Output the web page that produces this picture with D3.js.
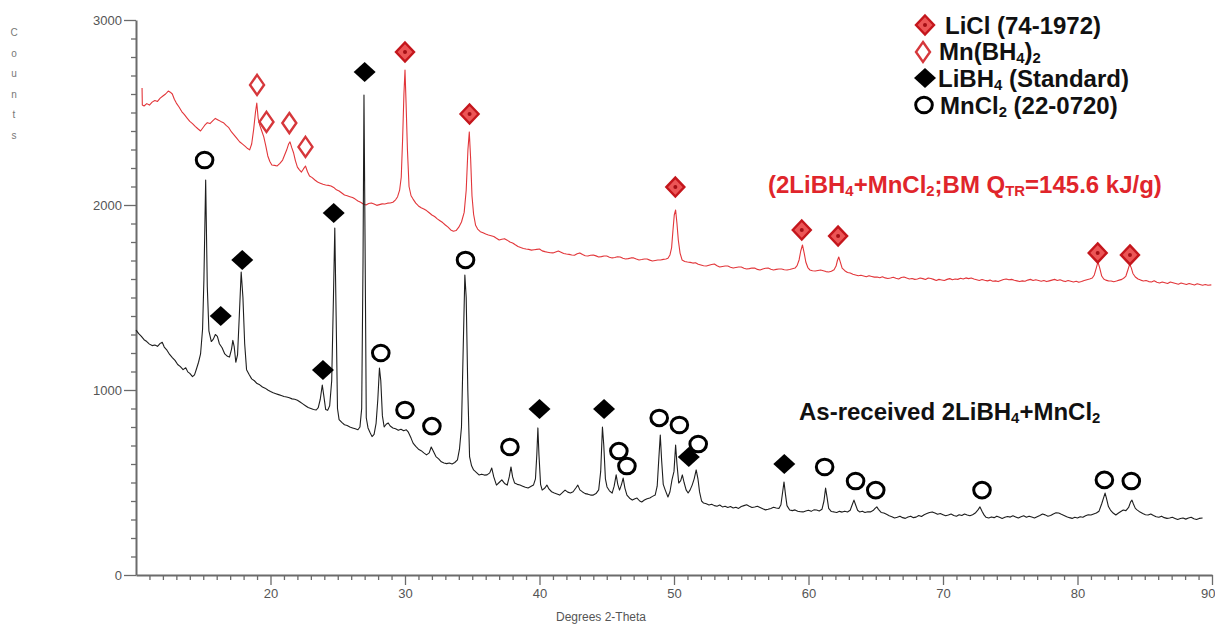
<!DOCTYPE html>
<html>
<head>
<meta charset="utf-8">
<script src="https://cdn.jsdelivr.net/npm/d3@7"></script>
<style>
  html, body { margin: 0; padding: 0; background: #fff; }
  svg { display: block; }
  text { white-space: pre; }
</style>
</head>
<body>
<script>
// ---- XRD patterns: [2-theta (deg), counts] ----
const asReceived = [
[10.0,1324],[10.2,1305],[10.4,1290],[10.6,1272],[10.8,1262],[11.0,1248],[11.2,1240],[11.4,1243],[11.6,1236],[11.8,1252],[11.95,1258],[12.1,1232],[12.3,1215],[12.5,1192],[12.7,1175],[12.9,1160],[13.1,1138],[13.3,1126],[13.5,1110],[13.7,1120],[13.85,1098],[14.0,1090],[14.2,1072],[14.35,1082],[14.5,1115],[14.65,1150],[14.8,1195],[14.95,1330],[15.05,1600],[15.18,2135],[15.3,1560],[15.42,1320],[15.6,1262],[15.75,1275],[15.9,1300],[16.05,1290],[16.2,1250],[16.4,1228],[16.6,1195],[16.8,1182],[16.95,1178],[17.1,1220],[17.2,1268],[17.3,1235],[17.42,1150],[17.55,1190],[17.68,1400],[17.82,1638],[17.95,1500],[18.08,1250],[18.22,1110],[18.4,1085],[18.6,1060],[18.8,1050],[19.0,1035],[19.2,1028],[19.4,1016],[19.6,1010],[19.8,1000],[20.0,992],[20.2,985],[20.4,980],[20.6,975],[20.8,970],[21.0,965],[21.2,962],[21.4,958],[21.6,952],[21.8,950],[22.0,945],[22.2,935],[22.4,925],[22.6,915],[22.8,905],[23.0,900],[23.2,895],[23.4,892],[23.55,905],[23.7,950],[23.85,1027],[23.98,960],[24.1,895],[24.25,890],[24.4,915],[24.55,1050],[24.68,1500],[24.78,1876],[24.88,1400],[24.98,900],[25.1,840],[25.3,825],[25.5,812],[25.7,808],[25.9,800],[26.1,795],[26.3,790],[26.5,785],[26.65,800],[26.78,900],[26.88,1700],[26.95,2595],[27.03,1800],[27.12,850],[27.25,795],[27.4,770],[27.55,748],[27.7,760],[27.85,820],[27.98,950],[28.1,1119],[28.2,1050],[28.32,860],[28.45,800],[28.6,815],[28.75,822],[28.9,805],[29.1,795],[29.3,790],[29.5,782],[29.7,788],[29.9,780],[30.1,785],[30.25,772],[30.45,740],[30.6,713],[30.8,695],[31.0,680],[31.2,672],[31.4,660],[31.6,649],[31.8,660],[31.95,692],[32.1,670],[32.3,640],[32.5,628],[32.7,612],[32.9,605],[33.1,602],[33.3,605],[33.5,600],[33.7,608],[33.9,622],[34.05,680],[34.2,800],[34.32,1200],[34.45,1622],[34.55,1500],[34.67,1000],[34.8,640],[34.95,590],[35.1,568],[35.3,555],[35.5,541],[35.7,545],[35.9,540],[36.1,541],[36.3,552],[36.45,578],[36.6,530],[36.8,486],[37.0,500],[37.2,514],[37.4,495],[37.6,486],[37.75,530],[37.88,584],[38.0,530],[38.15,497],[38.35,490],[38.55,486],[38.75,480],[38.95,474],[39.15,470],[39.35,478],[39.55,486],[39.7,520],[39.8,650],[39.88,795],[39.96,650],[40.08,490],[40.2,459],[40.4,470],[40.55,486],[40.7,465],[40.9,450],[41.1,443],[41.3,438],[41.5,432],[41.7,445],[41.9,459],[42.1,448],[42.3,443],[42.5,450],[42.7,470],[42.85,486],[43.0,460],[43.2,449],[43.4,440],[43.6,437],[43.8,432],[44.0,432],[44.2,440],[44.4,460],[44.55,560],[44.68,800],[44.78,700],[44.9,520],[45.02,476],[45.2,455],[45.4,443],[45.55,480],[45.7,541],[45.82,490],[45.95,459],[46.1,490],[46.22,524],[46.35,470],[46.5,432],[46.7,415],[46.9,405],[47.1,412],[47.25,416],[47.45,400],[47.6,395],[47.8,405],[48.0,412],[48.2,416],[48.4,425],[48.6,432],[48.75,480],[48.88,640],[48.98,757],[49.08,620],[49.2,490],[49.35,459],[49.55,422],[49.7,450],[49.85,514],[50.0,560],[50.12,703],[50.22,600],[50.35,497],[50.5,510],[50.62,541],[50.75,500],[50.9,460],[51.05,443],[51.2,460],[51.35,486],[51.5,520],[51.65,568],[51.78,520],[51.9,449],[52.05,400],[52.2,389],[52.4,385],[52.6,378],[52.8,382],[53.0,375],[53.2,372],[53.4,378],[53.6,368],[53.8,372],[54.0,365],[54.2,370],[54.4,362],[54.6,366],[54.8,360],[55.0,370],[55.2,375],[55.4,380],[55.6,372],[55.8,365],[56.0,368],[56.2,372],[56.4,365],[56.6,358],[56.8,352],[57.0,355],[57.2,360],[57.4,366],[57.6,362],[57.8,360],[57.95,380],[58.08,450],[58.18,503],[58.28,440],[58.4,375],[58.6,351],[58.8,348],[59.0,352],[59.2,345],[59.4,342],[59.6,341],[59.8,346],[60.0,350],[60.2,344],[60.4,352],[60.6,351],[60.8,346],[61.0,355],[61.15,400],[61.27,470],[61.38,420],[61.5,360],[61.7,343],[61.9,341],[62.1,338],[62.3,344],[62.5,340],[62.7,345],[62.9,341],[63.1,350],[63.25,380],[63.38,405],[63.5,380],[63.65,350],[63.8,341],[64.0,345],[64.2,338],[64.4,342],[64.6,341],[64.8,348],[64.95,360],[65.08,368],[65.2,355],[65.4,338],[65.6,335],[65.8,328],[66.0,320],[66.2,315],[66.4,308],[66.6,312],[66.8,318],[67.0,310],[67.2,306],[67.4,314],[67.6,318],[67.8,310],[68.0,313],[68.2,322],[68.4,316],[68.6,326],[68.8,332],[69.0,338],[69.2,341],[69.4,335],[69.6,328],[69.8,332],[70.0,326],[70.2,320],[70.4,324],[70.6,330],[70.8,322],[71.0,318],[71.2,326],[71.4,322],[71.6,330],[71.8,324],[72.0,320],[72.2,326],[72.4,335],[72.6,352],[72.75,368],[72.9,345],[73.05,325],[73.2,312],[73.4,308],[73.6,314],[73.8,310],[74.0,318],[74.2,312],[74.4,306],[74.6,312],[74.8,316],[75.0,313],[75.2,320],[75.4,314],[75.6,308],[75.8,315],[76.0,320],[76.2,312],[76.4,318],[76.6,313],[76.8,308],[77.0,315],[77.2,322],[77.4,330],[77.6,325],[77.8,318],[78.0,322],[78.2,330],[78.4,336],[78.6,335],[78.8,328],[79.0,322],[79.2,315],[79.4,310],[79.6,306],[79.8,312],[80.0,308],[80.2,315],[80.4,312],[80.6,320],[80.8,326],[81.0,324],[81.2,330],[81.4,335],[81.6,345],[81.8,385],[81.95,420],[82.05,443],[82.15,415],[82.3,370],[82.45,351],[82.65,335],[82.85,324],[83.05,335],[83.25,345],[83.4,351],[83.6,348],[83.8,365],[83.95,395],[84.05,405],[84.15,385],[84.3,360],[84.45,351],[84.65,340],[84.85,332],[85.05,326],[85.25,324],[85.45,330],[85.65,322],[85.85,315],[86.05,312],[86.25,318],[86.45,310],[86.65,306],[86.85,308],[87.05,312],[87.25,306],[87.45,300],[87.65,305],[87.85,308],[88.05,302],[88.25,308],[88.45,312],[88.65,304],[88.85,300],[89.05,306],[89.3,308]
];

const ballMilled = [
[10.45,2632],[10.47,2540],[10.6,2535],[10.8,2548],[11.0,2540],[11.2,2556],[11.4,2565],[11.6,2560],[11.8,2578],[12.0,2589],[12.2,2600],[12.4,2616],[12.55,2610],[12.7,2600],[12.85,2572],[13.0,2551],[13.2,2530],[13.4,2505],[13.6,2488],[13.8,2470],[14.0,2452],[14.2,2440],[14.4,2425],[14.6,2412],[14.8,2400],[14.95,2415],[15.1,2430],[15.3,2445],[15.5,2440],[15.7,2455],[15.9,2468],[16.1,2460],[16.3,2452],[16.5,2445],[16.7,2430],[16.9,2418],[17.1,2395],[17.3,2378],[17.5,2360],[17.7,2342],[17.9,2330],[18.1,2318],[18.3,2305],[18.45,2298],[18.6,2330],[18.75,2410],[18.88,2500],[18.98,2551],[19.08,2470],[19.2,2432],[19.35,2400],[19.5,2368],[19.65,2320],[19.8,2265],[19.95,2235],[20.1,2216],[20.3,2214],[20.5,2211],[20.7,2225],[20.9,2243],[21.05,2270],[21.2,2297],[21.35,2330],[21.45,2341],[21.58,2310],[21.72,2281],[21.85,2240],[22.0,2205],[22.15,2190],[22.3,2178],[22.45,2195],[22.6,2211],[22.75,2180],[22.9,2157],[23.1,2148],[23.3,2135],[23.5,2124],[23.7,2118],[23.9,2112],[24.1,2108],[24.3,2106],[24.5,2103],[24.7,2095],[24.9,2082],[25.1,2076],[25.3,2065],[25.5,2054],[25.7,2050],[25.9,2045],[26.1,2040],[26.3,2032],[26.5,2022],[26.7,2015],[26.9,2005],[27.1,2000],[27.3,2008],[27.5,2011],[27.7,2005],[27.9,1998],[28.1,2002],[28.3,2006],[28.5,2005],[28.7,2010],[28.9,2011],[29.1,2015],[29.3,2028],[29.45,2045],[29.6,2080],[29.72,2150],[29.82,2350],[29.92,2600],[30.0,2730],[30.08,2550],[30.18,2300],[30.3,2100],[30.45,2050],[30.6,2032],[30.8,2010],[31.0,1995],[31.2,1985],[31.4,1978],[31.6,1970],[31.8,1958],[32.0,1946],[32.2,1938],[32.4,1925],[32.6,1915],[32.8,1905],[33.0,1892],[33.2,1880],[33.4,1865],[33.6,1858],[33.8,1862],[34.0,1880],[34.2,1908],[34.4,1960],[34.55,2080],[34.68,2300],[34.78,2395],[34.88,2250],[34.98,2050],[35.1,1950],[35.25,1890],[35.4,1870],[35.6,1856],[35.8,1850],[36.0,1843],[36.2,1838],[36.4,1834],[36.6,1830],[36.8,1820],[37.0,1811],[37.2,1815],[37.4,1818],[37.6,1810],[37.8,1800],[38.0,1795],[38.2,1785],[38.4,1776],[38.6,1770],[38.8,1765],[39.0,1762],[39.2,1760],[39.4,1756],[39.6,1758],[39.8,1760],[40.0,1762],[40.2,1752],[40.4,1748],[40.6,1745],[40.8,1742],[41.0,1741],[41.2,1746],[41.4,1751],[41.6,1745],[41.8,1738],[42.0,1735],[42.2,1733],[42.4,1730],[42.6,1728],[42.8,1736],[43.0,1741],[43.2,1732],[43.4,1726],[43.6,1724],[43.8,1728],[44.0,1730],[44.2,1725],[44.4,1719],[44.6,1721],[44.8,1724],[45.0,1724],[45.2,1718],[45.4,1714],[45.6,1716],[45.8,1720],[46.0,1719],[46.2,1712],[46.4,1708],[46.6,1710],[46.8,1714],[47.0,1714],[47.2,1708],[47.4,1703],[47.6,1705],[47.8,1708],[48.0,1708],[48.2,1702],[48.4,1697],[48.6,1700],[48.8,1703],[49.0,1703],[49.2,1706],[49.4,1708],[49.55,1712],[49.7,1730],[49.82,1768],[49.92,1860],[50.02,1946],[50.12,1973],[50.22,1900],[50.32,1811],[50.45,1740],[50.6,1703],[50.8,1695],[51.0,1692],[51.2,1690],[51.4,1686],[51.6,1688],[51.8,1680],[52.0,1676],[52.2,1672],[52.4,1670],[52.6,1674],[52.8,1678],[53.0,1681],[53.2,1672],[53.4,1665],[53.6,1668],[53.8,1670],[54.0,1670],[54.2,1664],[54.4,1659],[54.6,1662],[54.8,1665],[55.0,1665],[55.2,1658],[55.4,1654],[55.6,1656],[55.8,1659],[56.0,1659],[56.2,1652],[56.4,1649],[56.6,1654],[56.8,1658],[57.0,1659],[57.2,1653],[57.4,1649],[57.6,1652],[57.8,1654],[58.0,1654],[58.2,1650],[58.4,1649],[58.6,1651],[58.8,1655],[59.0,1659],[59.15,1672],[59.3,1703],[59.42,1750],[59.55,1784],[59.68,1740],[59.8,1692],[59.95,1662],[60.1,1649],[60.3,1645],[60.5,1643],[60.7,1646],[60.9,1649],[61.1,1645],[61.3,1640],[61.5,1638],[61.7,1642],[61.9,1650],[62.05,1670],[62.15,1700],[62.25,1719],[62.35,1695],[62.5,1659],[62.7,1645],[62.9,1635],[63.1,1632],[63.3,1626],[63.5,1622],[63.7,1618],[63.9,1620],[64.1,1616],[64.3,1612],[64.5,1618],[64.7,1614],[64.9,1610],[65.1,1611],[65.3,1607],[65.5,1612],[65.7,1606],[65.9,1603],[66.1,1605],[66.3,1609],[66.5,1604],[66.7,1600],[66.9,1608],[67.1,1611],[67.3,1605],[67.5,1600],[67.7,1603],[67.9,1598],[68.1,1600],[68.3,1605],[68.5,1602],[68.7,1597],[68.9,1605],[69.1,1603],[69.3,1598],[69.5,1592],[69.7,1598],[69.9,1595],[70.1,1592],[70.3,1598],[70.5,1602],[70.7,1596],[70.9,1600],[71.1,1598],[71.3,1604],[71.5,1600],[71.7,1606],[71.9,1602],[72.1,1605],[72.3,1600],[72.5,1596],[72.7,1592],[72.9,1597],[73.1,1593],[73.3,1590],[73.5,1594],[73.7,1588],[73.9,1590],[74.1,1586],[74.3,1592],[74.5,1597],[74.7,1600],[74.9,1596],[75.1,1598],[75.3,1593],[75.5,1590],[75.7,1586],[75.9,1590],[76.1,1588],[76.3,1594],[76.5,1598],[76.7,1592],[76.9,1596],[77.1,1592],[77.3,1588],[77.5,1592],[77.7,1586],[77.9,1590],[78.1,1594],[78.3,1598],[78.5,1592],[78.7,1596],[78.9,1590],[79.1,1586],[79.3,1592],[79.5,1588],[79.7,1584],[79.9,1588],[80.1,1582],[80.3,1586],[80.5,1592],[80.7,1596],[80.9,1600],[81.1,1605],[81.25,1622],[81.4,1660],[81.52,1692],[81.65,1660],[81.8,1616],[81.95,1600],[82.1,1594],[82.3,1590],[82.5,1589],[82.7,1585],[82.9,1589],[83.1,1594],[83.3,1598],[83.45,1605],[83.6,1616],[83.75,1650],[83.88,1680],[84.0,1660],[84.12,1630],[84.3,1611],[84.5,1600],[84.7,1594],[84.9,1589],[85.1,1592],[85.3,1586],[85.5,1584],[85.7,1590],[85.9,1582],[86.1,1578],[86.3,1584],[86.5,1580],[86.7,1576],[86.9,1584],[87.1,1580],[87.3,1576],[87.5,1572],[87.7,1578],[87.9,1574],[88.1,1570],[88.3,1576],[88.5,1572],[88.7,1568],[88.9,1574],[89.1,1570],[89.3,1566],[89.5,1570],[89.7,1566],[89.95,1568]
];

// ---- Phase identification marks: [2-theta, counts where the symbol sits] ----
const liclPeaks   = [[30.0,2827],[34.8,2492],[50.1,2097],[59.5,1865],[62.2,1832],[81.5,1741],[83.9,1730]];
const mnbh4Peaks  = [[19.0,2649],[19.7,2449],[21.4,2443],[22.6,2314]];
const libh4Peaks  = [[16.3,1400],[17.9,1703],[23.9,1108],[24.7,1957],[27.0,2719],[40.0,897],[44.8,897],[51.1,638],[58.2,600]];
const mncl2Peaks  = [[15.1,2243],[28.2,1200],[30.0,892],[32.0,805],[34.5,1703],[37.8,692],[45.9,670],[46.5,589],[48.9,849],[50.4,811],[51.8,708],[61.2,584],[63.5,508],[65.0,459],[72.9,459],[82.0,514],[84.0,508]];

// ---- Axes ----
const xMajorTicks = [20, 30, 40, 50, 60, 70, 80, 90];
const yMajorTicks = [0, 1000, 2000, 3000];
const xLabel = "Degrees 2-Theta";
const yLabel = "Counts";

// ---- Texts with subscripts: [text, isSubscript] ----
const legendItems = [
  { key: "licl",  parts: [["LiCl (74-1972)", 0]] },
  { key: "mnbh4", parts: [["Mn(BH", 0], ["4", 1], [")", 0], ["2", 1]] },
  { key: "libh4", parts: [["LiBH", 0], ["4", 1], [" (Standard)", 0]] },
  { key: "mncl2", parts: [["MnCl", 0], ["2", 1], [" (22-0720)", 0]] }
];
const milledLabel   = [["(2LiBH", 0], ["4", 1], ["+MnCl", 0], ["2", 1], [";BM Q", 0], ["TR", 1], ["=145.6 kJ/g)", 0]];
const receivedLabel = [["As-received 2LiBH", 0], ["4", 1], ["+MnCl", 0], ["2", 1]];

// ================= drawing =================
const W = 1215, H = 627;
const svg = d3.select("body").append("svg").attr("width", W).attr("height", H);

const x = d3.scaleLinear().domain([10, 90]).range([136, 1212]);
const y = d3.scaleLinear().domain([0, 3000]).range([575, 20]);

const AXIS = "#6b6b6b";
const TICKFONT = "'Liberation Sans Narrow','Arial Narrow','Liberation Sans',Arial,sans-serif";

// x axis: minor every degree, major every ten
const gx = svg.append("g").attr("transform", "translate(0,575)");
gx.call(d3.axisBottom(x).tickValues(d3.range(11, 90, 1).filter(v => v % 10 !== 0))
        .tickSize(5).tickSizeOuter(0).tickFormat(""));
gx.append("g").call(d3.axisBottom(x).tickValues(xMajorTicks).tickSize(10).tickSizeOuter(0)
        .tickPadding(4).tickFormat(d3.format("d")))
  .select(".domain").remove();
// the last label sits against the right edge of the frame
gx.selectAll(".tick text").filter(d => d === 90).attr("text-anchor", "end").attr("dx", 3);

// y axis: minor every 100 counts
const gy = svg.append("g").attr("transform", "translate(136,0)");
gy.call(d3.axisLeft(y).tickValues(d3.range(100, 3000, 100).filter(v => v % 1000 !== 0))
        .tickSize(5).tickSizeOuter(0).tickFormat(""));
gy.append("g").call(d3.axisLeft(y).tickValues(yMajorTicks).tickSize(12).tickSizeOuter(0)
        .tickPadding(2).tickFormat(d3.format("d")))
  .select(".domain").remove();

svg.selectAll(".domain").attr("stroke", AXIS).attr("stroke-width", 2);
svg.selectAll(".tick line").attr("stroke", AXIS).attr("stroke-width", 1.3);
svg.selectAll(".tick text").attr("fill", "#555").attr("font-family", TICKFONT).attr("font-size", 13);

// axis titles
svg.append("text").attr("x", 601).attr("y", 621).attr("text-anchor", "middle")
  .attr("font-family", TICKFONT).attr("font-size", 12).attr("fill", "#555").text(xLabel);
svg.append("g").selectAll("text").data(yLabel.split("")).join("text")
  .attr("x", 14).attr("y", (d, i) => 36 + i * 20.6).attr("text-anchor", "middle")
  .attr("font-family", "'Liberation Sans',Arial,sans-serif").attr("font-size", 10).attr("fill", "#777")
  .text(d => d);

// diffraction traces
const line = d3.line().x(d => x(d[0])).y(d => y(d[1]));
svg.append("path").datum(ballMilled).attr("d", line)
  .attr("fill", "none").attr("stroke", "#e2363a").attr("stroke-width", 1.1).attr("stroke-linejoin", "round");
svg.append("path").datum(asReceived).attr("d", line)
  .attr("fill", "none").attr("stroke", "#1e1e1e").attr("stroke-width", 1.1).attr("stroke-linejoin", "round");

// ---- symbols ----
function diamond(g, hw, hh) {
  return g.append("path").attr("d", `M0,${-hh}L${hw},0L0,${hh}L${-hw},0Z`);
}
const sym = {
  licl(g) {
    diamond(g, 9, 9.5).attr("fill", "#ec5556").attr("stroke", "#c4161c").attr("stroke-width", 2.4);
    g.append("circle").attr("r", 2).attr("fill", "#a50f15");
  },
  mnbh4(g) {
    diamond(g, 7, 10).attr("fill", "#fff").attr("stroke", "#d6373b").attr("stroke-width", 2.4);
  },
  libh4(g) {
    diamond(g, 11, 10).attr("fill", "#000");
  },
  mncl2(g) {
    g.append("ellipse").attr("rx", 8.3).attr("ry", 7.8).attr("fill", "none")
      .attr("stroke", "#000").attr("stroke-width", 3);
  }
};
function placeMarks(list, kind) {
  svg.append("g").selectAll("g").data(list).join("g")
    .attr("transform", d => `translate(${x(d[0])},${y(d[1])})`)
    .each(function () { sym[kind](d3.select(this)); });
}
placeMarks(mnbh4Peaks, "mnbh4");
placeMarks(liclPeaks, "licl");
placeMarks(libh4Peaks, "libh4");
placeMarks(mncl2Peaks, "mncl2");

// ---- rich text with subscripts ----
const LABELFONT = "'Liberation Sans',Arial,Helvetica,sans-serif";
function richText(px, py, parts, size, color) {
  const t = svg.append("text").attr("x", px).attr("y", py)
    .attr("font-family", LABELFONT).attr("font-weight", "bold").attr("font-size", size).attr("fill", color);
  const drop = size * 0.12;
  let shifted = false;
  parts.forEach(([s, sub]) => {
    const sp = t.append("tspan").text(s);
    if (sub) {
      sp.attr("font-size", size * 0.62);
      if (!shifted) { sp.attr("dy", drop); shifted = true; }
    } else if (shifted) {
      sp.attr("dy", -drop); shifted = false;
    }
  });
  return t;
}

// legend
const legendRows = [
  { mx: 925, my: 25, tx: 945, ty: 34 },
  { mx: 923, my: 52, tx: 939, ty: 60 },
  { mx: 925, my: 78, tx: 938, ty: 87 },
  { mx: 924, my: 105, tx: 940, ty: 114 }
];
legendItems.forEach((item, i) => {
  const r = legendRows[i];
  const g = svg.append("g").attr("transform", `translate(${r.mx},${r.my})`);
  sym[item.key](g);
  richText(r.tx, r.ty, item.parts, 24, "#111");
});

// sample labels
richText(768, 193, milledLabel, 24, "#e0252b");
richText(799, 420, receivedLabel, 24, "#111");
</script>
</body>
</html>
